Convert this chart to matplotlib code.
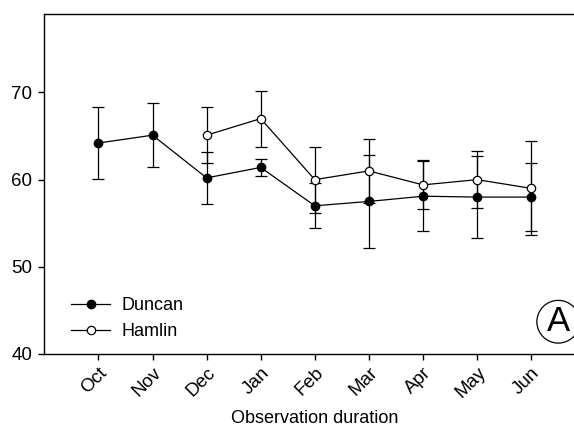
import matplotlib
matplotlib.use('Agg')
import matplotlib.pyplot as plt
from matplotlib.patches import Ellipse

plt.rcParams['font.family'] = ['Liberation Sans', 'DejaVu Sans']

# Data
months = ['Oct', 'Nov', 'Dec', 'Jan', 'Feb', 'Mar', 'Apr', 'May', 'Jun']
duncanX = [1, 2, 3, 4, 5, 6, 7, 8, 9]
duncanMean = [64.2, 65.1, 60.2, 61.4, 57.0, 57.5, 58.1, 58.0, 58.0]
duncanErr = [4.1, 3.7, 3.0, 1.0, 2.6, 5.3, 4.0, 4.7, 3.9]
hamlinX = [3, 4, 5, 6, 7, 8, 9]
hamlinMean = [65.1, 67.0, 60.0, 61.0, 59.4, 60.0, 59.0]
hamlinErr = [3.2, 3.2, 3.8, 3.7, 2.8, 3.3, 5.4]

fig = plt.figure(figsize=(5.74, 4.29), dpi=100)
ax = fig.add_axes([44.3 / 574, 75 / 429, 541 / 574, 340 / 429])

# error bars first, then lines and markers on top
ax.errorbar(duncanX, duncanMean, yerr=duncanErr, fmt='none', ecolor='black',
            elinewidth=0.9, capsize=4.2, capthick=0.9, zorder=2)
ax.errorbar(hamlinX, hamlinMean, yerr=hamlinErr, fmt='none', ecolor='black',
            elinewidth=0.9, capsize=4.2, capthick=0.9, zorder=2)
ax.plot(duncanX, duncanMean, color='black', lw=0.9, marker='o', ms=6,
        mfc='black', mec='black', label='Duncan', zorder=3)
ax.plot(hamlinX, hamlinMean, color='black', lw=0.9, marker='o', ms=6,
        mfc='white', mec='black', mew=0.9, label='Hamlin', zorder=4)

ax.set_xlim(0, 10)
ax.set_ylim(40, 79)
ax.set_yticks([40, 50, 60, 70])
ax.set_xticks(duncanX)
ax.set_xticklabels(months, rotation=45, ha='right', rotation_mode='anchor')
ax.tick_params(axis='both', labelsize=13.5, direction='out', length=4.5, width=1)
ax.tick_params(axis='x', pad=3)
ax.tick_params(axis='y', pad=4)
ax.spines['right'].set_visible(False)
for s in ['left', 'bottom', 'top']:
    ax.spines[s].set_linewidth(1)

ax.set_xlabel('Observation duration', fontsize=13, labelpad=6.5)

ax.legend(loc='lower left', bbox_to_anchor=(0.032, 0.015), frameon=False,
          fontsize=13, handlelength=2.2, handletextpad=0.6, labelspacing=0.5,
          borderpad=0)

# circled panel letter
ax.add_patch(Ellipse((9.5, 43.7), 0.79, 4.9, fill=False, lw=0.9,
                     edgecolor='black', clip_on=False))
ax.text(9.5, 43.7, 'A', fontsize=25, ha='center', va='center')

fig.savefig('out.png', dpi=100)
